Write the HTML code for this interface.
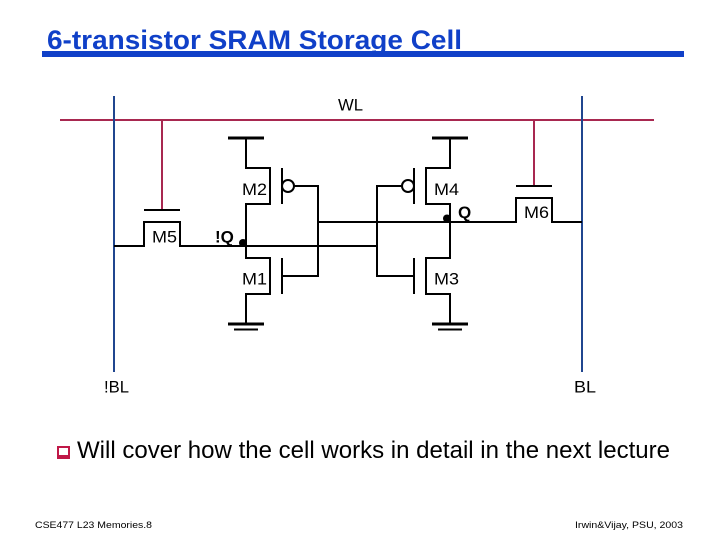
<!DOCTYPE html>
<html>
<head>
<meta charset="utf-8">
<style>
html,body{margin:0;padding:0;background:#fff;width:720px;height:540px;overflow:hidden}
svg{display:block}
text{font-family:"Liberation Sans",sans-serif;fill:#000}
</style>
</head>
<body>
<svg width="720" height="540" viewBox="0 0 720 540" xmlns="http://www.w3.org/2000/svg">
<rect width="720" height="540" fill="#fff"/>
<text x="47" y="49" font-size="26.500" font-weight="bold" style="fill:#1040c8" textLength="415" lengthAdjust="spacingAndGlyphs">6-transistor SRAM Storage Cell</text>
<rect x="42" y="51" width="642" height="6" fill="#1040c8"/>

<g fill="none" stroke="#a82850" stroke-width="2">
<path d="M60 120H654"/>
<path d="M162 120V210"/>
<path d="M534 120V186"/>
</g>
<g fill="none" stroke="#20468f" stroke-width="2">
<path d="M114 96V372"/>
<path d="M582 96V372"/>
</g>

<g fill="none" stroke="#000" stroke-width="2">
<path d="M114 246H144V222H180V246H377"/>
<path d="M318 222H516V198H552V222H582"/>
<path d="M144 210H180"/>
<path d="M516 186H552"/>
<path d="M246 138V168H270V204H246V258H270V294H246V324"/>
<path d="M282 168V204"/>
<path d="M282 258V294"/>
<circle cx="288" cy="186" r="6"/>
<path d="M294 186H318V276H282"/>
<path d="M450 138V168H426V204H450V258H426V294H450V324"/>
<path d="M414 168V204"/>
<path d="M414 258V294"/>
<circle cx="408" cy="186" r="6"/>
<path d="M402 186H377V276H414"/>
<path d="M234 329.500H258"/>
<path d="M438 329.500H462"/>
</g>
<g stroke="#000" stroke-width="3">
<path d="M228 138H264"/>
<path d="M432 138H468"/>
<path d="M228 324H264"/>
<path d="M432 324H468"/>
</g>
<circle cx="243" cy="243" r="4" fill="#000"/>
<circle cx="447" cy="218.500" r="4" fill="#000"/>

<text x="338" y="110.500" font-size="17" textLength="25" lengthAdjust="spacingAndGlyphs">WL</text>
<text x="242" y="195" font-size="17" textLength="25" lengthAdjust="spacingAndGlyphs">M2</text>
<text x="434" y="195" font-size="17" textLength="25" lengthAdjust="spacingAndGlyphs">M4</text>
<text x="152" y="242.500" font-size="17" textLength="25" lengthAdjust="spacingAndGlyphs">M5</text>
<text x="524" y="218" font-size="17" textLength="25" lengthAdjust="spacingAndGlyphs">M6</text>
<text x="242" y="284.500" font-size="17" textLength="25" lengthAdjust="spacingAndGlyphs">M1</text>
<text x="434" y="284.500" font-size="17" textLength="25" lengthAdjust="spacingAndGlyphs">M3</text>
<text x="215" y="242.500" font-size="17" font-weight="bold">!Q</text>
<text x="458" y="218" font-size="17" font-weight="bold">Q</text>
<text x="104" y="392.500" font-size="17" textLength="25" lengthAdjust="spacingAndGlyphs">!BL</text>
<text x="574" y="392.500" font-size="17" textLength="22" lengthAdjust="spacingAndGlyphs">BL</text>

<rect x="58" y="447" width="11" height="11" fill="#fff" stroke="#c01848" stroke-width="2"/>
<rect x="58" y="455" width="11" height="4" fill="#c01848"/>
<text x="77" y="458" font-size="24" textLength="593" lengthAdjust="spacingAndGlyphs">Will cover how the cell works in detail in the next lecture</text>

<text x="35" y="528" font-size="9.500" textLength="117" lengthAdjust="spacingAndGlyphs">CSE477  L23 Memories.8</text>
<text x="575" y="528" font-size="9.500" textLength="108" lengthAdjust="spacingAndGlyphs">Irwin&amp;Vijay, PSU, 2003</text>
</svg>
</body>
</html>
